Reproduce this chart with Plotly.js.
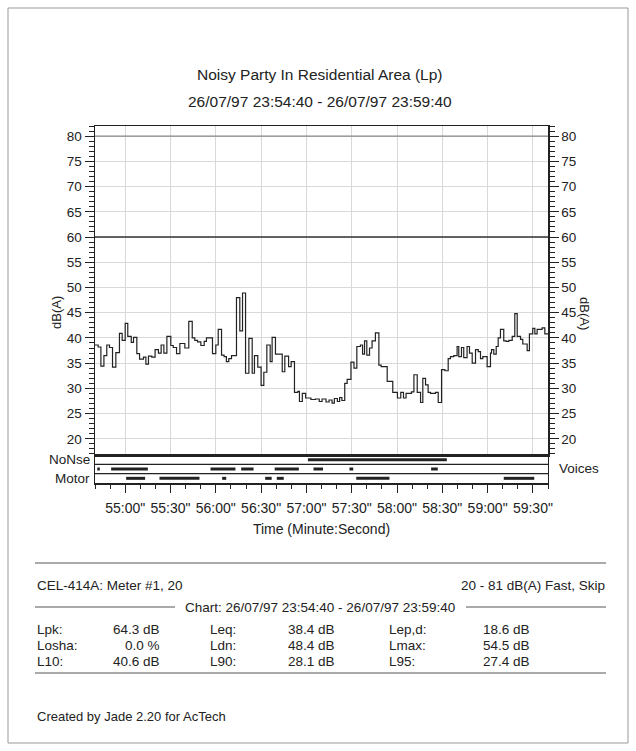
<!DOCTYPE html>
<html>
<head>
<meta charset="utf-8">
<script src="https://cdn.plot.ly/plotly-3.0.1.min.js"></script>
<style>html,body{margin:0;padding:0;background:#fff;}#chart{width:636px;height:751px;}</style>
</head>
<body>
<div id="chart"></div>
<script>
// ---- Data (seconds from 23:54:40, dB(A)) ----
const timeSec = [0, 2.1, 3.9, 5.9, 7.8, 9.6, 11.6, 13.8, 16.2, 18, 20, 21.7, 24, 25.5, 27.7, 29.5, 32.1, 33.7, 35.4, 37.6, 39.8, 42, 43.8, 45.6, 47.6, 50.2, 51.8, 54, 56.2, 59.5, 62.1, 64.4, 66.1, 67.9, 70.1, 72.3, 73.8, 77.8, 80, 81.6, 83.8, 85.5, 87, 88.6, 90.4, 93.7, 95.9, 97.7, 99.7, 101.9, 104.1, 105.6, 107.8, 110, 111.8, 113.8, 116, 117.3, 119.5, 124, 125.7, 128.2, 129.9, 132.1, 134.3, 135.4, 137.3, 139.5, 143, 146, 148.5, 150.4, 153, 155, 157, 158.5, 160.5, 162, 163.5, 165.4, 167, 169.5, 171.5, 173.4, 175.8, 177.2, 178.5, 180, 181.8, 183.5, 185.7, 188, 189.5, 193.5, 197.2, 200.3, 202.5, 204.3, 206, 209.6, 211.2, 213.4, 215.6, 217.1, 218.9, 220.6, 222.2, 225.5, 227.3, 229.5, 231.7, 233.9, 235.4, 237.6, 239.8, 240.9, 242.7, 244.2, 246.4, 248, 249.8, 252, 253.8, 255.3, 256.8, 259.7, 261.9, 262.6, 264.1, 265.7, 267, 268.5, 270.7, 272.3, 274.1, 276.3, 278, 279.6, 281.8, 283.3, 286.2, 287.7, 289.9, 291.3, 292.8, 296.1, 297.9, 300];
const levelDb = [38.6, 38.2, 34.4, 36.5, 38.6, 38.1, 34.2, 37.1, 40.9, 39.5, 42.9, 40.3, 39.1, 40.1, 36.9, 35.8, 36.2, 34.8, 36.4, 36.2, 37.7, 37.0, 38.6, 37.0, 40.3, 38.5, 38.1, 36.9, 38.9, 38.0, 43.3, 40.0, 39.5, 39.2, 38.5, 39.3, 40.0, 36.9, 38.6, 41.7, 36.6, 36.3, 35.3, 35.9, 36.5, 48.0, 41.4, 48.9, 33.0, 39.9, 33.0, 36.5, 34.2, 30.6, 33.2, 38.6, 35.3, 40.1, 36.8, 33.3, 36.4, 34.3, 35.3, 29.2, 29.4, 27.4, 29.0, 28.1, 27.8, 27.9, 27.4, 27.9, 27.3, 27.7, 27.1, 28.0, 27.4, 28.2, 27.6, 31.0, 31.8, 35.2, 34.0, 38.3, 38.6, 36.8, 39.4, 36.6, 38.0, 39.4, 41.0, 34.6, 34.3, 31.4, 29.2, 28.1, 29.2, 28.1, 29.0, 29.3, 32.7, 29.2, 27.2, 32.0, 30.7, 29.2, 29.0, 29.2, 27.2, 33.7, 33.5, 35.9, 36.3, 36.5, 38.3, 36.3, 38.1, 36.1, 38.3, 37.0, 35.0, 37.7, 37.3, 35.9, 36.3, 34.3, 37.0, 37.7, 36.8, 38.3, 40.0, 41.7, 39.4, 39.3, 39.5, 40.3, 44.8, 40.3, 39.7, 38.8, 37.5, 40.8, 41.9, 40.8, 41.7, 42.0, 40.8, 40.8];

const noNseStart = [141];
const noNseEnd   = [233];
const voicesStart = [1.5, 10.7, 76.5, 96.8, 119, 144.7, 168.5, 222.6];
const voicesEnd   = [3.2, 35, 93, 105, 135, 151, 171, 227];
const motorStart = [20.6, 42.7, 84.2, 112.7, 120.4, 173, 270.7];
const motorEnd   = [33.2, 69.2, 86.9, 117, 125, 195, 290.9];

const xTickVals = [20, 50, 80, 110, 140, 170, 200, 230, 260, 290];
const xTickText = ['55:00"', '55:30"', '56:00"', '56:30"', '57:00"', '57:30"', '58:00"', '58:30"', '59:00"', '59:30"'];
const limitLines = [60, 80];

const statsLabels = [['Lpk:', 'Losha:', 'L10:'], ['Leq:', 'Ldn:', 'L90:'], ['Lep,d:', 'Lmax:', 'L95:']];
const statsValues = [['64.3 dB', '0.0 %', '40.6 dB'], ['38.4 dB', '48.4 dB', '28.1 dB'], ['18.6 dB', '54.5 dB', '27.4 dB']];

// ---- Helpers ----
const L = 95, T = 126, W = 453, H = 357;
const px = x => (x - L) / W;
const py = y => (T + H - y) / H;
const FONT = 'Liberation Sans, Arial, Helvetica, sans-serif';
const INK = '#222';

function segs(starts, ends, row) {
  const xs = [], ys = [];
  starts.forEach((s, i) => { xs.push(s, ends[i], null); ys.push(row, row, null); });
  return {x: xs, y: ys};
}

const traces = [];
traces.push({
  x: timeSec, y: levelDb, type: 'scatter', mode: 'lines', line: {shape: 'hv', color: INK, width: 1.2},
  xaxis: 'x', yaxis: 'y', hoverinfo: 'skip'
});
[[noNseStart, noNseEnd, 2.5], [voicesStart, voicesEnd, 1.5], [motorStart, motorEnd, 0.5]].forEach(r => {
  const s = segs(r[0], r[1], r[2]);
  traces.push({x: s.x, y: s.y, type: 'scatter', mode: 'lines', line: {color: INK, width: 3},
    xaxis: 'x2', yaxis: 'y2', hoverinfo: 'skip', connectgaps: false});
});
traces.push({x: [null], y: [null], xaxis: 'x', yaxis: 'y3', type: 'scatter', mode: 'lines', hoverinfo: 'skip'});

const bandFrac = 28 / H;
const yCommon = {
  range: [16.8, 82], tickmode: 'linear', tick0: 20, dtick: 5, ticks: 'outside', ticklen: 9, tickwidth: 1,
  tickcolor: INK, showline: true, linecolor: INK, linewidth: 1.5, zeroline: false,
  tickfont: {family: FONT, size: 13.5, color: INK},
  minor: {tickmode: 'linear', tick0: 0, dtick: 1, ticks: 'outside', ticklen: 5, tickcolor: INK, showgrid: false}
};

const shapes = [];
limitLines.forEach((v, i) => shapes.push({type: 'line', xref: 'paper', yref: 'y', x0: 0, x1: 1, y0: v, y1: v,
  line: {color: i === 0 ? '#333' : '#888', width: i === 0 ? 1.5 : 1.2}}));
[1, 2].forEach(v => shapes.push({type: 'line', xref: 'paper', yref: 'y2', x0: 0, x1: 1, y0: v, y1: v, line: {color: INK, width: 1.2}}));
// page border
shapes.push({type: 'rect', xref: 'paper', yref: 'paper', x0: px(8), x1: px(628), y0: py(8), y1: py(743), line: {color: '#999', width: 1}});
// stats separator lines
const gl = {color: '#555', width: 1};
shapes.push({type: 'line', xref: 'paper', yref: 'paper', x0: px(35), x1: px(606), y0: py(563), y1: py(563), line: gl});
shapes.push({type: 'line', xref: 'paper', yref: 'paper', x0: px(35), x1: px(175), y0: py(607), y1: py(607), line: gl});
shapes.push({type: 'line', xref: 'paper', yref: 'paper', x0: px(466), x1: px(606), y0: py(607), y1: py(607), line: gl});
shapes.push({type: 'line', xref: 'paper', yref: 'paper', x0: px(35), x1: px(606), y0: py(673), y1: py(673), line: gl});

const ann = [];
function txt(text, x, y, xanchor, size, extra) {
  ann.push(Object.assign({xref: 'paper', yref: 'paper', x: px(x), y: py(y), xanchor: xanchor, yanchor: 'middle',
    text: text, showarrow: false, font: {family: FONT, size: size, color: INK}}, extra || {}));
}
txt('Noisy Party In Residential Area (Lp)', 320, 74, 'center', 15.5);
txt('26/07/97 23:54:40 - 26/07/97 23:59:40', 320, 101, 'center', 15.5);
txt('dB(A)', 56, 313, 'center', 13, {textangle: -90});
txt('dB(A)', 585, 313, 'center', 13, {textangle: 90});
txt('NoNse', 92, 459, 'right', 13.5);
txt('Motor', 92, 478, 'right', 13.5);
txt('Voices', 557, 468, 'left', 13.5);
txt('CEL-414A: Meter #1, 20', 35, 585, 'left', 13.5);
txt('20 - 81 dB(A) Fast, Skip', 607, 585, 'right', 13.5);
txt('Chart: 26/07/97 23:54:40 - 26/07/97 23:59:40', 320, 607, 'center', 13.5);
const labX = [35, 208, 387], valX = [162, 337, 532], rowY = [629, 645, 661];
statsLabels.forEach((col, c) => col.forEach((lab, r) => {
  txt(lab, labX[c], rowY[r], 'left', 13.5);
  txt(statsValues[c][r], valX[c], rowY[r], 'right', 13.5);
}));
txt('Created by Jade 2.20 for AcTech', 35, 716, 'left', 13);

const layout = {
  width: 636, height: 751, paper_bgcolor: '#fff', plot_bgcolor: '#fff', showlegend: false,
  margin: {l: L, r: 636 - L - W, t: T, b: 751 - T - H, pad: 0},
  font: {family: FONT, color: INK},
  xaxis: {domain: [0, 1], anchor: 'y', range: [0, 300], tickmode: 'array', tickvals: xTickVals, showticklabels: false,
    ticks: '', showgrid: true, gridcolor: '#d9d9d9', gridwidth: 1, showline: true, mirror: true, linecolor: INK, linewidth: 1.5, zeroline: false},
  xaxis2: {domain: [0, 1], anchor: 'y2', matches: 'x', range: [0, 300], tickmode: 'array', tickvals: xTickVals, ticktext: xTickText,
    ticks: 'outside', ticklen: 8, tickwidth: 1, tickcolor: INK, showgrid: false, showline: true, mirror: true, linecolor: INK, linewidth: 1.5,
    zeroline: false, tickfont: {family: FONT, size: 14, color: INK}, ticklabelstandoff: 4,
    minor: {tickmode: 'linear', tick0: 0, dtick: 10, ticks: 'outside', ticklen: 4, tickcolor: INK, showgrid: false},
    title: {text: 'Time (Minute:Second)', font: {family: FONT, size: 14, color: INK}, standoff: 9}},
  yaxis: Object.assign({}, yCommon, {domain: [bandFrac, 1], anchor: 'x', side: 'left', showgrid: true, gridcolor: '#d9d9d9', gridwidth: 1, ticklabelstandoff: 0}),
  yaxis3: Object.assign({}, yCommon, {overlaying: 'y', anchor: 'x', side: 'right', showgrid: false, ticklabelstandoff: 0}),
  yaxis2: {domain: [0, bandFrac], anchor: 'x2', range: [0, 3], showticklabels: false, ticks: '', showgrid: false, zeroline: false,
    showline: true, mirror: true, linecolor: INK, linewidth: 1.2, fixedrange: true},
  shapes: shapes,
  annotations: ann
};

Plotly.newPlot('chart', traces, layout, {displayModeBar: false, staticPlot: true});
</script>
</body>
</html>
